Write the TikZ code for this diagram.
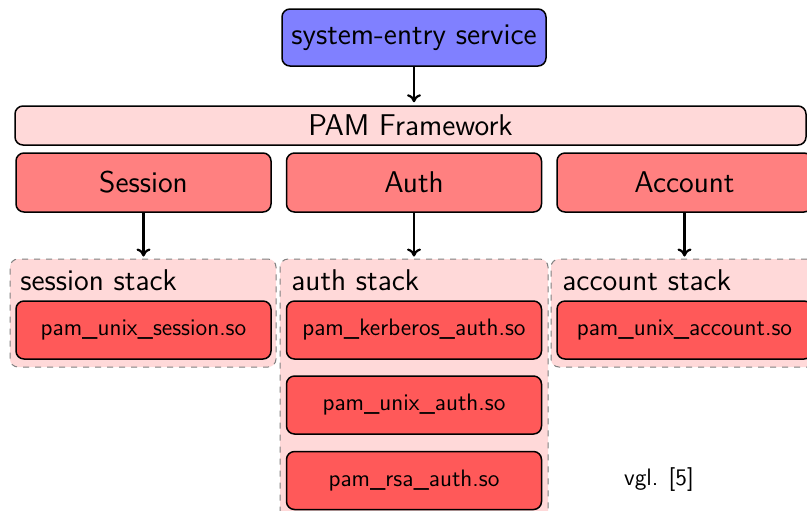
\documentclass[tikz,border=0pt]{standalone}
\usepackage{fontspec}
\usetikzlibrary{arrows.meta}
\begin{document}
\begin{tikzpicture}[x=0.5pt,y=-0.5pt,
  bigtext/.style={font=\sffamily\fontsize{15}{18}\selectfont},
  smalltext/.style={font=\sffamily\fontsize{11.9}{14}\selectfont},
  box/.style={draw=black, line width=0.75pt, rounded corners=4pt, inner sep=0pt, text=black},
  entrybox/.style={box, bigtext, fill=blue!50, minimum width=132pt, minimum height=28.5pt},
  frameworkbox/.style={box, bigtext, fill=red!15, minimum width=395.5pt, minimum height=19.5pt},
  groupbox/.style={box, bigtext, fill=red!50, minimum width=127.5pt, minimum height=29.5pt},
  modbox/.style={box, smalltext, fill=red!65, minimum width=127.5pt, minimum height=29pt},
  stackbg/.style={draw=gray, dashed, line width=0.5pt, fill=red!15, rounded corners=4pt, inner sep=0pt},
  stacklabel/.style={bigtext, anchor=west, inner sep=0pt},
  conn/.style={-{To[length=4pt,width=7pt]}, line width=1.1pt}
]
\clip (0,0) rectangle (807,510);
\fill[white] (0,0) rectangle (807,510);

% stack backgrounds
\node[stackbg, minimum width=133pt, minimum height=54pt] (sstack) at (143,313) {};
\node[stackbg, minimum width=134pt, minimum height=140pt] (astack) at (414,399) {};
\node[stackbg, minimum width=132pt, minimum height=54pt] (cstack) at (683,313) {};

% top
\node[entrybox] (entry) at (414,37.5) {system-entry service};
\node[frameworkbox] (pam) at (410.5,125.5) {PAM Framework};

% groups
\node[groupbox] (sess) at (143.5,182.5) {Session};
\node[groupbox] (auth) at (414,182.5) {Auth};
\node[groupbox] (acct) at (684.5,182.5) {Account};

% stack labels
\node[stacklabel] (sl) at (20,280) {session stack};
\node[stacklabel] (al) at (291,280) {auth stack};
\node[stacklabel] (cl) at (562,280) {account stack};

% modules
\node[modbox] (m1) at (143.5,330) {pam\_unix\_session.so};
\node[modbox] (m2) at (414,330) {pam\_kerberos\_auth.so};
\node[modbox] (m3) at (414,405) {pam\_unix\_auth.so};
\node[modbox] (m4) at (414,480.5) {pam\_rsa\_auth.so};
\node[modbox] (m5) at (684.5,330) {pam\_unix\_account.so};

\node[smalltext, inner sep=0pt] (ref) at (659,480) {vgl. [5]};

% connectors
\draw[conn] (entry.south) -- ([yshift=1.5pt]entry.south |- pam.north);
\draw[conn] (sess.south) -- ([yshift=1pt]sess.south |- sstack.north);
\draw[conn] (auth.south) -- ([yshift=1pt]auth.south |- astack.north);
\draw[conn] (acct.south) -- ([yshift=1pt]acct.south |- cstack.north);
\end{tikzpicture}
\end{document}
